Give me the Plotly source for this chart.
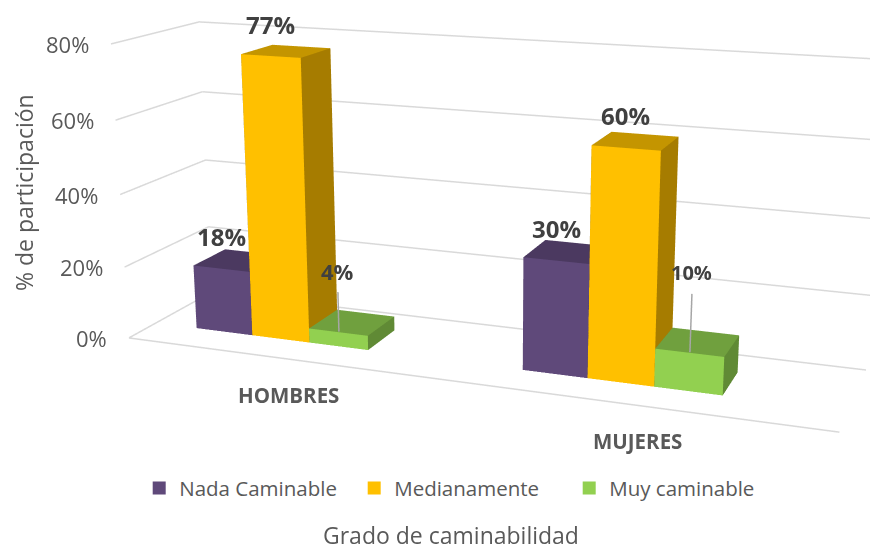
import plotly.graph_objects as go

categories = ["HOMBRES", "MUJERES"]
series_names = ["Nada Caminable", "Medianamente", "Muy caminable"]
nada = [18, 30]
medianamente = [77, 60]
muy = [4, 10]
tick_vals = [0, 20, 40, 60, 80]
tick_text = ["0%", "20%", "40%", "60%", "80%"]

# Layout of the 3D plot box (category axis runs 0..2, depth 0..1)
category_centers = [0.4082, 1.4088]
bar_width = 0.1816
depth_front, depth_back = 0.3083, 0.6986
leader_heights = [11, 15]
small_label_sizes = [22, 20]

W, H = 870, 546
LEFT, HS = 105, 458
FOVY = 0.2820

front = ["#5f497a", "#ffc000", "#92d050"]
top = ["#4b3960", "#c49500", "#70a03e"]
side = ["#46355a", "#a67c00", "#608a35"]
values = [nada, medianamente, muy]
GRID = "#d9d9d9"
TEXT = "#595959"
LABEL = "#404040"
FONT = "Open Sans"

fig = go.Figure()
for t in tick_vals:
    fig.add_trace(go.Scatter3d(x=[0, 0, 2], y=[0, 1, 1], z=[t, t, t], mode="lines",
                               line=dict(color=GRID, width=3), showlegend=False, hoverinfo="skip"))
fig.add_trace(go.Scatter3d(x=[0, 2], y=[0, 0], z=[0, 0], mode="lines",
                           line=dict(color=GRID, width=3), showlegend=False, hoverinfo="skip"))

for s, name in enumerate(series_names):
    X, Y, Z, I, J, K, FC = [], [], [], [], [], [], []
    for c_i in range(len(categories)):
        x0 = category_centers[c_i] + (s - 1.5) * bar_width
        x1 = x0 + bar_width
        h = values[s][c_i]
        b = len(X)
        X += [x0, x1, x1, x0, x0, x1, x1, x0]
        Y += [depth_front, depth_front, depth_back, depth_back] * 2
        Z += [0, 0, 0, 0, h, h, h, h]
        faces = [((0, 1, 5), front), ((0, 5, 4), front), ((4, 5, 6), top), ((4, 6, 7), top),
                 ((1, 2, 6), side), ((1, 6, 5), side), ((0, 3, 7), side), ((0, 7, 4), side),
                 ((3, 2, 6), side), ((3, 6, 7), side)]
        for (a, bb, cc), col in faces:
            I.append(b + a); J.append(b + bb); K.append(b + cc); FC.append(col[s])
    fig.add_trace(go.Mesh3d(x=X, y=Y, z=Z, i=I, j=J, k=K, facecolor=FC, name=name, showlegend=False,
                            flatshading=True, hoverinfo="skip",
                            lighting=dict(ambient=1, diffuse=0, specular=0, roughness=1, fresnel=0)))
    fig.add_trace(go.Scatter3d(x=[None], y=[None], z=[None], mode="markers", name=name, showlegend=True,
                               marker=dict(symbol="square", size=13, color=front[s]), hoverinfo="skip"))

ann = []
for t, txt in zip(tick_vals, tick_text):
    ann.append(dict(x=0, y=0, z=t, text=txt, showarrow=False, xanchor="right", xshift=-20,
                    font=dict(family=FONT, size=22, color=TEXT)))
for c_i, cat in enumerate(categories):
    ann.append(dict(x=category_centers[c_i], y=0, z=0, text="<b>%s</b>" % cat, showarrow=False,
                    xshift=32, yshift=-40, font=dict(family=FONT, size=20.5, color=TEXT)))
    for s in range(2):
        ann.append(dict(x=category_centers[c_i] + (s - 1) * bar_width, y=depth_front, z=values[s][c_i],
                        text="<b>%d%%</b>" % values[s][c_i], showarrow=False, yshift=32,
                        font=dict(family=FONT, size=24, color=LABEL)))
    xl = category_centers[c_i] + bar_width
    zl = muy[c_i] + leader_heights[c_i]
    ann.append(dict(x=xl, y=depth_front, z=zl, text="<b>%d%%</b>" % muy[c_i], showarrow=False, yshift=22,
                    font=dict(family=FONT, size=small_label_sizes[c_i], color=LABEL)))
    fig.add_trace(go.Scatter3d(x=[xl, xl], y=[depth_front + .01] * 2, z=[muy[c_i], zl], mode="lines",
                               line=dict(color="#a6a6a6", width=3), showlegend=False, hoverinfo="skip"))

axis_off = dict(showbackground=False, showgrid=False, zeroline=False, showticklabels=False,
                showspikes=False, title="", ticks="")
fig.update_layout(
    width=W, height=H, margin=dict(l=0, r=0, t=0, b=0), paper_bgcolor="white",
    scene=dict(
        domain=dict(x=[LEFT / W, 1], y=[1 - HS / H, 1]),
        camera=dict(eye=dict(x=.7396, y=-1.9744, z=.5377), center=dict(x=.0100, y=-.0243, z=-.0246),
                    up=dict(x=.0016, y=0, z=1), projection=dict(type="perspective")),
        aspectmode="manual", aspectratio=dict(x=1, y=.2331, z=.4200),
        xaxis=dict(axis_off, range=[0, 2]),
        yaxis=dict(axis_off, range=[0, 1]),
        zaxis=dict(axis_off, range=[0, 80]),
        annotations=ann),
    legend=dict(orientation="h", x=0.160, y=0.0695, xanchor="left", yanchor="bottom",
                entrywidthmode="pixels", entrywidth=170,
                font=dict(family=FONT, size=20.5, color=TEXT)),
    annotations=[
        dict(xref="paper", yref="paper", x=451/W, y=1-535/H, text="Grado de caminabilidad", showarrow=False,
             xanchor="center", yanchor="middle", font=dict(family=FONT, size=23, color=TEXT)),
        dict(xref="paper", yref="paper", x=24/W, y=1-193/H, text="% de participación", textangle=-90, showarrow=False,
             xanchor="center", yanchor="middle", font=dict(family=FONT, size=23, color=TEXT)),
    ])
post = """
document.body.style.margin = '0';
var s = document.getElementById('{plot_id}')._fullLayout.scene._scene;
s.glplot.fovy = %f;
s.glplot.redraw();
""" % FOVY
fig.write_html("out.html", post_script=post, config=dict(displayModeBar=False))
